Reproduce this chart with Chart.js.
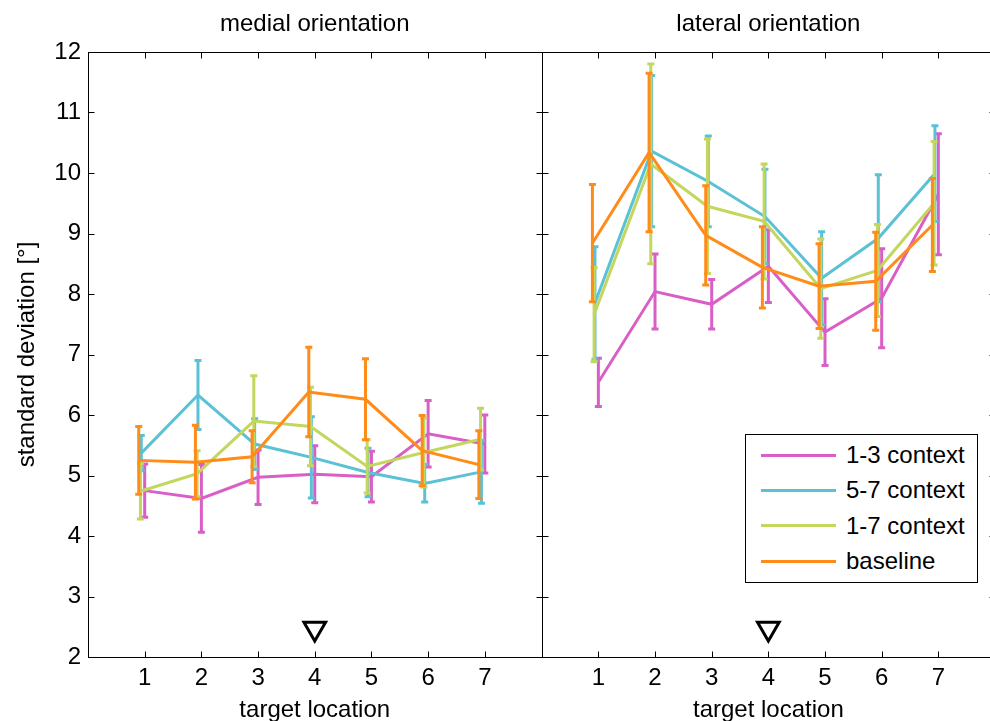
<!DOCTYPE html>
<html>
<head>
<meta charset="utf-8">
<script src="https://cdn.jsdelivr.net/npm/chart.js@4/dist/chart.umd.min.js"></script>
<style>
html,body{margin:0;padding:0;background:#fff;}
#wrap{position:relative;width:990px;height:721px;overflow:hidden;background:#fff;}
#c1{position:absolute;left:0;top:0;}
#c2{position:absolute;left:530px;top:0;}
#legend{position:absolute;left:745px;top:434px;width:231px;height:147px;border:1px solid #000;background:#fff;
  font-family:"Liberation Sans",Arial,sans-serif;font-size:24px;color:#000;}
.row{position:absolute;left:0;height:30px;display:flex;align-items:center;white-space:nowrap;}
.sw{display:inline-block;width:75px;height:3px;margin-left:15px;margin-right:10px;}
</style>
</head>
<body>
<div id="wrap">
  <canvas id="c1" width="560" height="721"></canvas>
  <canvas id="c2" width="480" height="721"></canvas>
  <div id="legend"></div>
</div>
<script>
// ---------- data ----------
const categories = [1, 2, 3, 4, 5, 6, 7];
const yTickValues = [2, 3, 4, 5, 6, 7, 8, 9, 10, 11, 12];
const panelTitles = ['medial orientation', 'lateral orientation'];
const seriesNames = ['1-3 context', '5-7 context', '1-7 context', 'baseline'];

// medial orientation (means and error half-widths)
const medial_13 = [4.75, 4.62, 4.97, 5.02, 4.98, 5.69, 5.52];
const medial_13_err = [0.44, 0.56, 0.45, 0.47, 0.42, 0.55, 0.48];
const medial_57 = [5.37, 6.33, 5.52, 5.30, 5.05, 4.87, 5.06];
const medial_57_err = [0.29, 0.57, 0.42, 0.67, 0.40, 0.31, 0.52];
const medial_17 = [4.74, 5.03, 5.90, 5.81, 5.15, 5.38, 5.60];
const medial_17_err = [0.46, 0.38, 0.75, 0.65, 0.44, 0.57, 0.51];
const medial_base = [5.25, 5.22, 5.31, 6.38, 6.26, 5.41, 5.18];
const medial_base_err = [0.56, 0.61, 0.43, 0.74, 0.67, 0.58, 0.56];

// lateral orientation
const lateral_13 = [6.54, 8.04, 7.83, 8.46, 7.37, 7.93, 9.65];
const lateral_13_err = [0.40, 0.62, 0.41, 0.60, 0.55, 0.82, 1.00];
const lateral_57 = [7.85, 10.36, 9.86, 9.28, 8.26, 8.92, 9.99];
const lateral_57_err = [0.93, 1.25, 0.75, 0.78, 0.77, 1.05, 0.79];
const lateral_17 = [7.66, 10.15, 9.45, 9.20, 8.09, 8.39, 9.50];
const lateral_17_err = [0.78, 1.65, 1.11, 0.95, 0.82, 0.76, 1.02];
const lateral_base = [8.84, 10.34, 8.97, 8.44, 8.13, 8.21, 9.14];
const lateral_base_err = [0.97, 1.31, 0.82, 0.67, 0.70, 0.81, 0.77];

// target marker
const markerX = [4];
const markerY = [2.47];

// ---------- styles ----------
const seriesColors = ['#D95FC6', '#5BC1D5', '#C3D65E', '#FF8B19'];
const seriesShift = [0, -0.06, -0.075, -0.105];   // small horizontal dodge of each series
const seriesOrder = [3, 2, 1, 0];                   // baseline drawn on top
const FONT = '"Liberation Sans", Arial, sans-serif';
const FS = 24;
Chart.defaults.font.family = FONT;
Chart.defaults.color = '#000';

const errPlugin = {
  id: 'errbars',
  afterDatasetDraw(chart, args) {
    const ds = chart.data.datasets[args.index];
    if (!ds.errors) return;
    const y = chart.scales.y, ctx = chart.ctx;
    ctx.save();
    ctx.strokeStyle = ds.borderColor;
    ctx.lineWidth = 3;
    ctx.lineCap = 'butt';
    args.meta.data.forEach((pt, i) => {
      const v = ds.data[i].y, e = ds.errors[i];
      const yt = y.getPixelForValue(v + e), yb = y.getPixelForValue(v - e);
      ctx.beginPath();
      ctx.moveTo(pt.x, yt); ctx.lineTo(pt.x, yb);
      ctx.moveTo(pt.x - 3.5, yt); ctx.lineTo(pt.x + 3.5, yt);
      ctx.moveTo(pt.x - 3.5, yb); ctx.lineTo(pt.x + 3.5, yb);
      ctx.stroke();
    });
    ctx.restore();
  }
};

const framePlugin = {
  id: 'frame',
  beforeDatasetsDraw(chart) {
    const {ctx, chartArea: a, scales: {x, y}} = chart;
    ctx.save();
    ctx.strokeStyle = '#000';
    ctx.lineWidth = 1;
    const L = Math.round(a.left) + 0.5, R = Math.round(a.right) + 0.5;
    const T = Math.round(a.top) + 0.5, B = Math.round(a.bottom) + 0.5;
    ctx.strokeRect(L, T, R - L, B - T);
    ctx.beginPath();
    yTickValues.forEach(v => {
      const py = Math.round(y.getPixelForValue(v)) + 0.5;
      ctx.moveTo(L, py); ctx.lineTo(L + 6, py);
      ctx.moveTo(R, py); ctx.lineTo(R - 6, py);
    });
    categories.forEach(v => {
      const px = Math.round(x.getPixelForValue(v)) + 0.5;
      ctx.moveTo(px, B); ctx.lineTo(px, B - 6);
      ctx.moveTo(px, T); ctx.lineTo(px, T + 6);
    });
    ctx.stroke();
    ctx.restore();
  }
};

function makeDatasets(means, errs) {
  const ds = means.map((m, s) => ({
    label: seriesNames[s],
    data: m.map((v, i) => ({x: categories[i] + seriesShift[s], y: v})),
    errors: errs[s],
    borderColor: seriesColors[s],
    backgroundColor: seriesColors[s],
    borderWidth: 3,
    pointRadius: 0,
    tension: 0,
    order: seriesOrder[s]
  }));
  ds.push({
    label: 'target',
    data: markerX.map((v, i) => ({x: v, y: markerY[i]})),
    showLine: false,
    pointStyle: 'triangle',
    pointRotation: 180,
    pointRadius: 12.5,
    pointBorderWidth: 3,
    pointBorderColor: '#000',
    pointBackgroundColor: 'rgba(0,0,0,0)',
    borderColor: '#000',
    order: -1
  });
  return ds;
}

function makeChart(id, title, means, errs, showY, padding) {
  return new Chart(document.getElementById(id), {
    type: 'line',
    data: {datasets: makeDatasets(means, errs)},
    plugins: [framePlugin, errPlugin],
    options: {
      responsive: false,
      animation: false,
      layout: {padding: padding, autoPadding: false},
      plugins: {
        legend: {display: false},
        tooltip: {enabled: false},
        title: {
          display: true, text: title, fullSize: false,
          font: {size: FS, weight: 'normal'}, color: '#000',
          padding: {top: 9.6, bottom: 13.6}
        }
      },
      scales: {
        x: {
          type: 'linear', min: 0, max: 8,
          afterBuildTicks: s => { s.ticks = categories.map(v => ({value: v})); },
          afterFit: s => { s.height = 64; },
          grid: {display: false, drawTicks: false},
          border: {display: false},
          ticks: {font: {size: FS}, color: '#000', padding: 7, autoSkip: false, maxRotation: 0},
          title: {display: true, text: 'target location', font: {size: FS}, color: '#000', padding: {top: 0, bottom: -4}}
        },
        y: {
          display: showY,
          min: 2, max: 12,
          afterBuildTicks: s => { s.ticks = yTickValues.map(v => ({value: v})); },
          afterFit: s => { if (showY) s.width = 88; },
          grid: {display: false, drawTicks: false},
          border: {display: false},
          ticks: {font: {size: FS}, color: '#000', padding: 7},
          title: {display: showY, text: 'standard deviation [°]', font: {size: FS}, color: '#000', padding: {top: 12.8, bottom: 0}}
        }
      }
    }
  });
}

makeChart('c1', panelTitles[0],
  [medial_13, medial_57, medial_17, medial_base],
  [medial_13_err, medial_57_err, medial_17_err, medial_base_err],
  true, {left: 0, right: 18.5, top: 0, bottom: 0});
makeChart('c2', panelTitles[1],
  [lateral_13, lateral_57, lateral_17, lateral_base],
  [lateral_13_err, lateral_57_err, lateral_17_err, lateral_base_err],
  false, {left: 11.7, right: 15, top: 0, bottom: 0});

// legend (HTML, real text)
const lg = document.getElementById('legend');
seriesNames.forEach((name, i) => {
  const row = document.createElement('div');
  row.className = 'row';
  row.style.top = (20 + i * 35.4 - 15) + 'px';
  const sw = document.createElement('span');
  sw.className = 'sw';
  sw.style.background = seriesColors[i];
  const tx = document.createElement('span');
  tx.textContent = name;
  row.appendChild(sw); row.appendChild(tx);
  lg.appendChild(row);
});
</script>
</body>
</html>
